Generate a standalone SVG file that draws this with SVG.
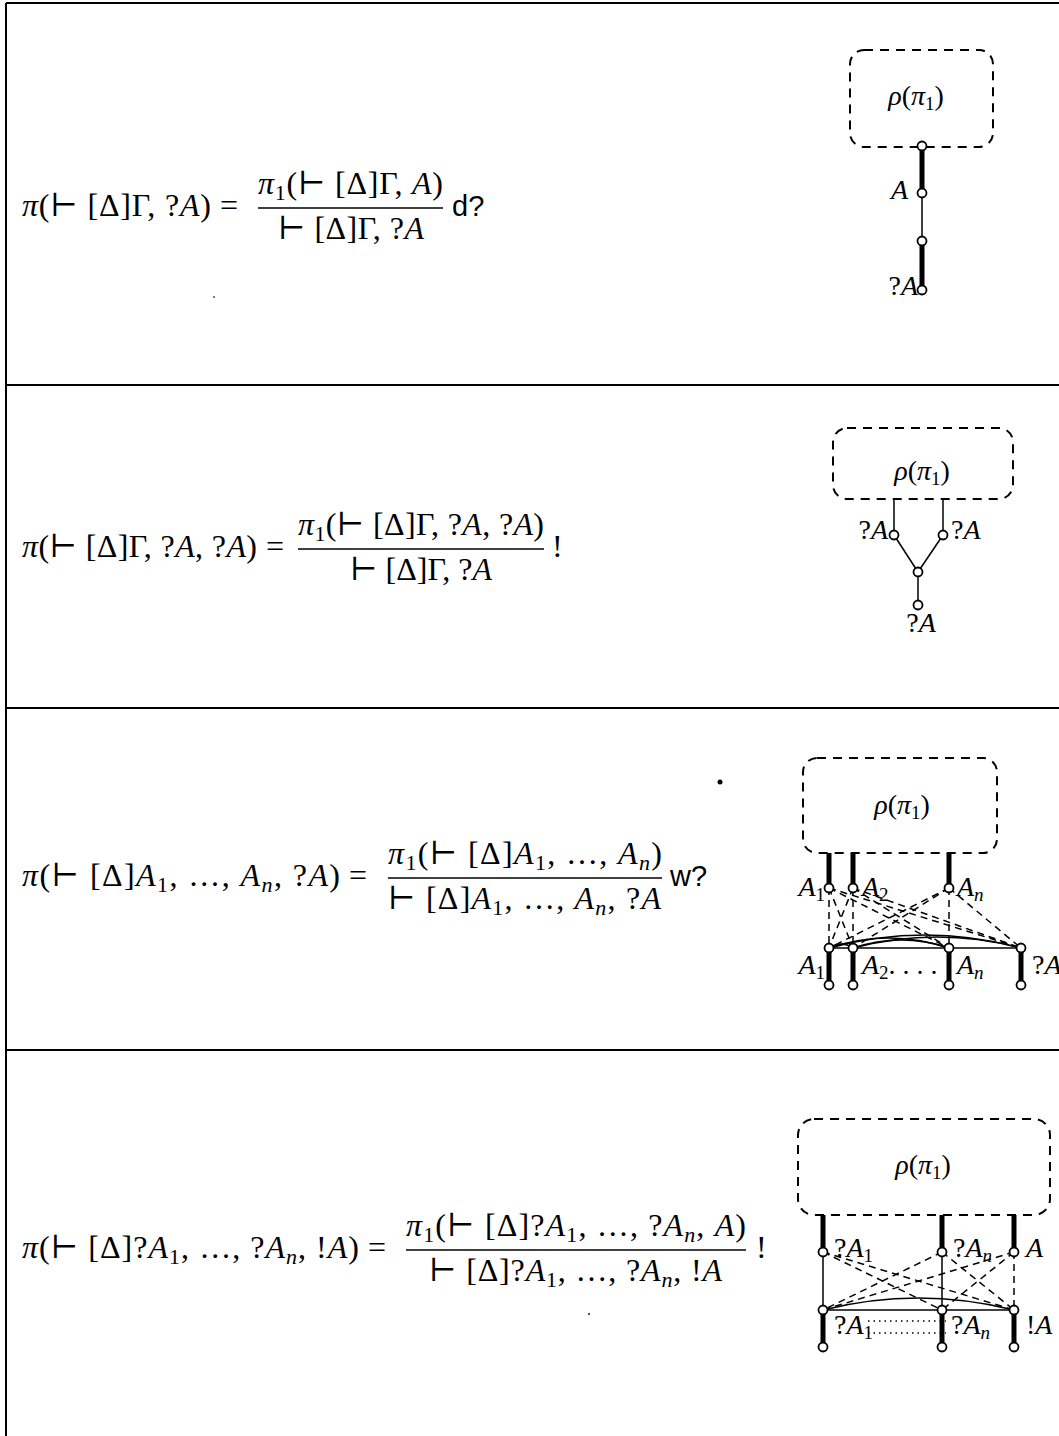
<svg xmlns="http://www.w3.org/2000/svg" width="1059" height="1436" viewBox="0 0 1059 1436">
<style>
.bg{fill:#fff}
.frame{stroke:#000;stroke-width:2;fill:none}
.f{font-family:"Liberation Serif","DejaVu Serif",serif;font-size:32px;fill:#000}
.i{font-style:italic}
.s{font-size:22px}
.r{font-family:"Liberation Sans",Arial,sans-serif;font-size:29px;fill:#000}
.lb{font-family:"Liberation Serif","DejaVu Serif",serif;font-size:28px;fill:#000}
.ls{font-size:19px}
.bar{stroke:#000;stroke-width:1.4}
.box{fill:none;stroke:#000;stroke-width:2;stroke-dasharray:9 7}
.thick{stroke:#000;stroke-width:5}
.thin{stroke:#000;stroke-width:1.5;fill:none}
.dash{stroke:#000;stroke-width:1.5;stroke-dasharray:7 5}
.dot{stroke:#000;stroke-width:1.5;stroke-dasharray:1.5 4}
.n{fill:#fff;stroke:#000;stroke-width:1.8}
</style>
<rect class="bg" x="0" y="0" width="1059" height="1436"/>
<g id="frame">
<line class="frame" x1="6" y1="3" x2="1059" y2="3"/>
<line class="frame" x1="6" y1="3" x2="6" y2="1436"/>
<line class="frame" x1="6" y1="385" x2="1059" y2="385"/>
<line class="frame" x1="6" y1="708" x2="1059" y2="708"/>
<line class="frame" x1="6" y1="1050" x2="1059" y2="1050"/>
</g>
<g id="specks">
<circle cx="720" cy="782" r="2.5" fill="#000"/>
<circle cx="214" cy="297" r="1" fill="#555"/>
<circle cx="589" cy="1314" r="1.2" fill="#555"/>
</g>

<g id="formula1">
<text class="f" x="22" y="216" textLength="189"><tspan class="i">π</tspan>(⊢ [Δ]Γ, ?<tspan class="i">A</tspan>)</text>
<text class="f" x="220" y="216">=</text>
<text class="f" x="258" y="194" textLength="185"><tspan class="i">π</tspan><tspan class="s" dy="6">1</tspan><tspan dy="-6">(⊢ [Δ]Γ, </tspan><tspan class="i">A</tspan>)</text>
<line class="bar" x1="258" y1="208" x2="443" y2="208"/>
<text class="f" x="278" y="239" textLength="146">⊢ [Δ]Γ, ?<tspan class="i">A</tspan></text>
<text class="r" x="452" y="216">d?</text>
</g>

<g id="formula2">
<text class="f" x="22" y="557" textLength="235"><tspan class="i">π</tspan>(⊢ [Δ]Γ, ?<tspan class="i">A</tspan>, ?<tspan class="i">A</tspan>)</text>
<text class="f" x="266" y="557">=</text>
<text class="f" x="298" y="535" textLength="246"><tspan class="i">π</tspan><tspan class="s" dy="6">1</tspan><tspan dy="-6">(⊢ [Δ]Γ, ?</tspan><tspan class="i">A</tspan>, ?<tspan class="i">A</tspan>)</text>
<line class="bar" x1="298" y1="549" x2="544" y2="549"/>
<text class="f" x="350" y="580" textLength="142">⊢ [Δ]Γ, ?<tspan class="i">A</tspan></text>
<text class="f" x="552" y="557">!</text>
</g>

<g id="formula3">
<text class="f" x="22" y="886" textLength="318"><tspan class="i">π</tspan>(⊢ [Δ]<tspan class="i">A</tspan><tspan class="s" dy="6">1</tspan><tspan dy="-6">, …, </tspan><tspan class="i">A</tspan><tspan class="s i" dy="6">n</tspan><tspan dy="-6">, ?</tspan><tspan class="i">A</tspan>)</text>
<text class="f" x="349" y="886">=</text>
<text class="f" x="388" y="864" textLength="274"><tspan class="i">π</tspan><tspan class="s" dy="6">1</tspan><tspan dy="-6">(⊢ [Δ]</tspan><tspan class="i">A</tspan><tspan class="s" dy="6">1</tspan><tspan dy="-6">, …, </tspan><tspan class="i">A</tspan><tspan class="s i" dy="6">n</tspan><tspan dy="-6">)</tspan></text>
<line class="bar" x1="388" y1="878" x2="662" y2="878"/>
<text class="f" x="388" y="909" textLength="273">⊢ [Δ]<tspan class="i">A</tspan><tspan class="s" dy="6">1</tspan><tspan dy="-6">, …, </tspan><tspan class="i">A</tspan><tspan class="s i" dy="6">n</tspan><tspan dy="-6">, ?</tspan><tspan class="i">A</tspan></text>
<text class="r" x="670" y="886">w?</text>
</g>

<g id="formula4">
<text class="f" x="22" y="1258" textLength="337"><tspan class="i">π</tspan>(⊢ [Δ]?<tspan class="i">A</tspan><tspan class="s" dy="6">1</tspan><tspan dy="-6">, …, ?</tspan><tspan class="i">A</tspan><tspan class="s i" dy="6">n</tspan><tspan dy="-6">, !</tspan><tspan class="i">A</tspan>)</text>
<text class="f" x="368" y="1258">=</text>
<text class="f" x="406" y="1236" textLength="340"><tspan class="i">π</tspan><tspan class="s" dy="6">1</tspan><tspan dy="-6">(⊢ [Δ]?</tspan><tspan class="i">A</tspan><tspan class="s" dy="6">1</tspan><tspan dy="-6">, …, ?</tspan><tspan class="i">A</tspan><tspan class="s i" dy="6">n</tspan><tspan dy="-6">, </tspan><tspan class="i">A</tspan>)</text>
<line class="bar" x1="406" y1="1250" x2="746" y2="1250"/>
<text class="f" x="429" y="1281" textLength="293">⊢ [Δ]?<tspan class="i">A</tspan><tspan class="s" dy="6">1</tspan><tspan dy="-6">, …, ?</tspan><tspan class="i">A</tspan><tspan class="s i" dy="6">n</tspan><tspan dy="-6">, !</tspan><tspan class="i">A</tspan></text>
<text class="f" x="756" y="1258">!</text>
</g>

<g id="connectors">
<line class="thick" x1="922" y1="146" x2="922" y2="193"/>
<line class="thin" x1="922" y1="193" x2="922" y2="241"/>
<line class="thick" x1="922" y1="241" x2="922" y2="290"/>
<line class="thin" x1="894" y1="499" x2="894" y2="535"/>
<line class="thin" x1="943" y1="499" x2="943" y2="535"/>
<line class="thin" x1="894" y1="535" x2="918" y2="572"/>
<line class="thin" x1="943" y1="535" x2="918" y2="572"/>
<line class="thin" x1="918" y1="572" x2="918" y2="605"/>
<line class="thick" x1="829" y1="853" x2="829" y2="888"/>
<line class="thick" x1="853" y1="853" x2="853" y2="888"/>
<line class="thick" x1="949" y1="853" x2="949" y2="888"/>
<line class="thick" x1="829" y1="948" x2="829" y2="985"/>
<line class="thick" x1="853" y1="948" x2="853" y2="985"/>
<line class="thick" x1="949" y1="948" x2="949" y2="985"/>
<line class="thick" x1="1021" y1="948" x2="1021" y2="985"/>
<line class="dash" x1="829" y1="888" x2="829" y2="948"/>
<line class="dash" x1="853" y1="888" x2="853" y2="948"/>
<line class="dash" x1="949" y1="888" x2="949" y2="948"/>
<line class="dash" x1="829" y1="888" x2="853" y2="948"/>
<line class="dash" x1="853" y1="888" x2="829" y2="948"/>
<line class="dash" x1="829" y1="888" x2="949" y2="948"/>
<line class="dash" x1="853" y1="888" x2="949" y2="948"/>
<line class="dash" x1="829" y1="888" x2="1021" y2="948"/>
<line class="dash" x1="853" y1="888" x2="1021" y2="948"/>
<line class="dash" x1="949" y1="888" x2="829" y2="948"/>
<line class="dash" x1="949" y1="888" x2="853" y2="948"/>
<line class="dash" x1="949" y1="888" x2="1021" y2="948"/>
<line class="thin" x1="829" y1="948" x2="1021" y2="948" stroke-width="1.2"/>
<path class="thin" d="M829 948 Q925 922 1021 948" stroke-width="1.2"/>
<path class="thin" d="M853 948 Q937 926 1021 948" stroke-width="1.2"/>
<path class="thin" d="M829 948 Q889 928 949 948" stroke-width="1.2"/>
<path class="thin" d="M853 948 Q901 932 949 948" stroke-width="1.2"/>
<path class="thin" d="M829 948 Q841 940 853 948" stroke-width="1.2"/>
<line class="thick" x1="823" y1="1215" x2="823" y2="1252"/>
<line class="thick" x1="942" y1="1215" x2="942" y2="1252"/>
<line class="thick" x1="1014" y1="1215" x2="1014" y2="1252"/>
<line class="thick" x1="823" y1="1310" x2="823" y2="1347"/>
<line class="thick" x1="942" y1="1310" x2="942" y2="1347"/>
<line class="thick" x1="1014" y1="1310" x2="1014" y2="1347"/>
<line class="thin" x1="823" y1="1252" x2="823" y2="1310" stroke-width="1.2"/>
<line class="thin" x1="942" y1="1252" x2="942" y2="1310"/>
<line class="dash" x1="1014" y1="1252" x2="1014" y2="1310"/>
<line class="dash" x1="823" y1="1252" x2="942" y2="1310"/>
<line class="dash" x1="823" y1="1252" x2="1014" y2="1310"/>
<line class="dash" x1="942" y1="1252" x2="823" y2="1310"/>
<line class="dash" x1="942" y1="1252" x2="1014" y2="1310"/>
<line class="dash" x1="1014" y1="1252" x2="823" y2="1310"/>
<line class="dash" x1="1014" y1="1252" x2="942" y2="1310"/>
<line class="thin" x1="823" y1="1310" x2="1014" y2="1310" stroke-width="1.2"/>
<path class="thin" d="M823 1310 Q918 1286 1014 1310" stroke-width="1.2"/>
<line class="dot" x1="868" y1="1321" x2="946" y2="1321"/>
<line class="dot" x1="868" y1="1333" x2="946" y2="1333"/>
</g>

<g id="p1-box"><rect class="box" x="850" y="50" width="143" height="97" rx="14"/><text class="lb" x="916" y="105" text-anchor="middle"><tspan class="i">ρ</tspan>(<tspan class="i">π</tspan><tspan class="ls" dy="5">1</tspan><tspan dy="-5">)</tspan></text></g>
<g id="p1-n1"><circle class="n" cx="922" cy="146" r="4.5"/></g>
<g id="p1-n2"><circle class="n" cx="922" cy="193" r="4.5"/><text class="lb i" x="908" y="199" text-anchor="end">A</text></g>
<g id="p1-n3"><circle class="n" cx="922" cy="241" r="4.5"/></g>
<g id="p1-n4"><circle class="n" cx="922" cy="290" r="4.5"/><text class="lb" x="918" y="295" text-anchor="end">?<tspan class="i">A</tspan></text></g>

<g id="p2-box"><rect class="box" x="833" y="428" width="180" height="71" rx="14"/><text class="lb" x="922" y="480" text-anchor="middle"><tspan class="i">ρ</tspan>(<tspan class="i">π</tspan><tspan class="ls" dy="5">1</tspan><tspan dy="-5">)</tspan></text></g>
<g id="p2-n1"><circle class="n" cx="894" cy="535" r="4.5"/><text class="lb" x="888" y="539" text-anchor="end">?<tspan class="i">A</tspan></text></g>
<g id="p2-n2"><circle class="n" cx="943" cy="535" r="4.5"/><text class="lb" x="951" y="539">?<tspan class="i">A</tspan></text></g>
<g id="p2-n3"><circle class="n" cx="918" cy="572" r="4.5"/></g>
<g id="p2-n4"><circle class="n" cx="918" cy="605" r="4.5"/><text class="lb" x="921" y="632" text-anchor="middle">?<tspan class="i">A</tspan></text></g>

<g id="p3-box"><rect class="box" x="803" y="758" width="194" height="95" rx="14"/><text class="lb" x="902" y="814" text-anchor="middle"><tspan class="i">ρ</tspan>(<tspan class="i">π</tspan><tspan class="ls" dy="5">1</tspan><tspan dy="-5">)</tspan></text></g>
<g id="p3-t1"><circle class="n" cx="829" cy="888" r="4.5"/><text class="lb" x="825" y="896" text-anchor="end"><tspan class="i">A</tspan><tspan class="ls" dy="5">1</tspan></text></g>
<g id="p3-t2"><circle class="n" cx="853" cy="888" r="4.5"/><text class="lb" x="862" y="896"><tspan class="i">A</tspan><tspan class="ls" dy="5">2</tspan></text></g>
<g id="p3-tn"><circle class="n" cx="949" cy="888" r="4.5"/><text class="lb" x="957" y="896"><tspan class="i">A</tspan><tspan class="ls i" dy="5">n</tspan></text></g>
<g id="p3-b1"><circle class="n" cx="829" cy="948" r="4.5"/><circle class="n" cx="829" cy="985" r="4.5"/><text class="lb" x="825" y="974" text-anchor="end"><tspan class="i">A</tspan><tspan class="ls" dy="5">1</tspan></text></g>
<g id="p3-b2"><circle class="n" cx="853" cy="948" r="4.5"/><circle class="n" cx="853" cy="985" r="4.5"/><text class="lb" x="862" y="974"><tspan class="i">A</tspan><tspan class="ls" dy="5">2</tspan><tspan dy="-5">. . . .</tspan></text></g>
<g id="p3-bn"><circle class="n" cx="949" cy="948" r="4.5"/><circle class="n" cx="949" cy="985" r="4.5"/><text class="lb" x="957" y="974"><tspan class="i">A</tspan><tspan class="ls i" dy="5">n</tspan></text></g>
<g id="p3-bq"><circle class="n" cx="1021" cy="948" r="4.5"/><circle class="n" cx="1021" cy="985" r="4.5"/><text class="lb" x="1032" y="974">?<tspan class="i">A</tspan></text></g>

<g id="p4-box"><rect class="box" x="798" y="1119" width="252" height="96" rx="16"/><text class="lb" x="923" y="1174" text-anchor="middle"><tspan class="i">ρ</tspan>(<tspan class="i">π</tspan><tspan class="ls" dy="5">1</tspan><tspan dy="-5">)</tspan></text></g>
<g id="p4-t1"><circle class="n" cx="823" cy="1252" r="4.5"/><text class="lb" x="834" y="1257">?<tspan class="i">A</tspan><tspan class="ls" dy="5">1</tspan></text></g>
<g id="p4-tn"><circle class="n" cx="942" cy="1252" r="4.5"/><text class="lb" x="953" y="1257">?<tspan class="i">A</tspan><tspan class="ls i" dy="5">n</tspan></text></g>
<g id="p4-ta"><circle class="n" cx="1014" cy="1252" r="4.5"/><text class="lb i" x="1026" y="1257">A</text></g>
<g id="p4-b1"><circle class="n" cx="823" cy="1310" r="4.5"/><circle class="n" cx="823" cy="1347" r="4.5"/><text class="lb" x="834" y="1334">?<tspan class="i">A</tspan><tspan class="ls" dy="5">1</tspan></text></g>
<g id="p4-bn"><circle class="n" cx="942" cy="1310" r="4.5"/><circle class="n" cx="942" cy="1347" r="4.5"/><text class="lb" x="951" y="1334">?<tspan class="i">A</tspan><tspan class="ls i" dy="5">n</tspan></text></g>
<g id="p4-ba"><circle class="n" cx="1014" cy="1310" r="4.5"/><circle class="n" cx="1014" cy="1347" r="4.5"/><text class="lb" x="1026" y="1334">!<tspan class="i">A</tspan></text></g>
</svg>
